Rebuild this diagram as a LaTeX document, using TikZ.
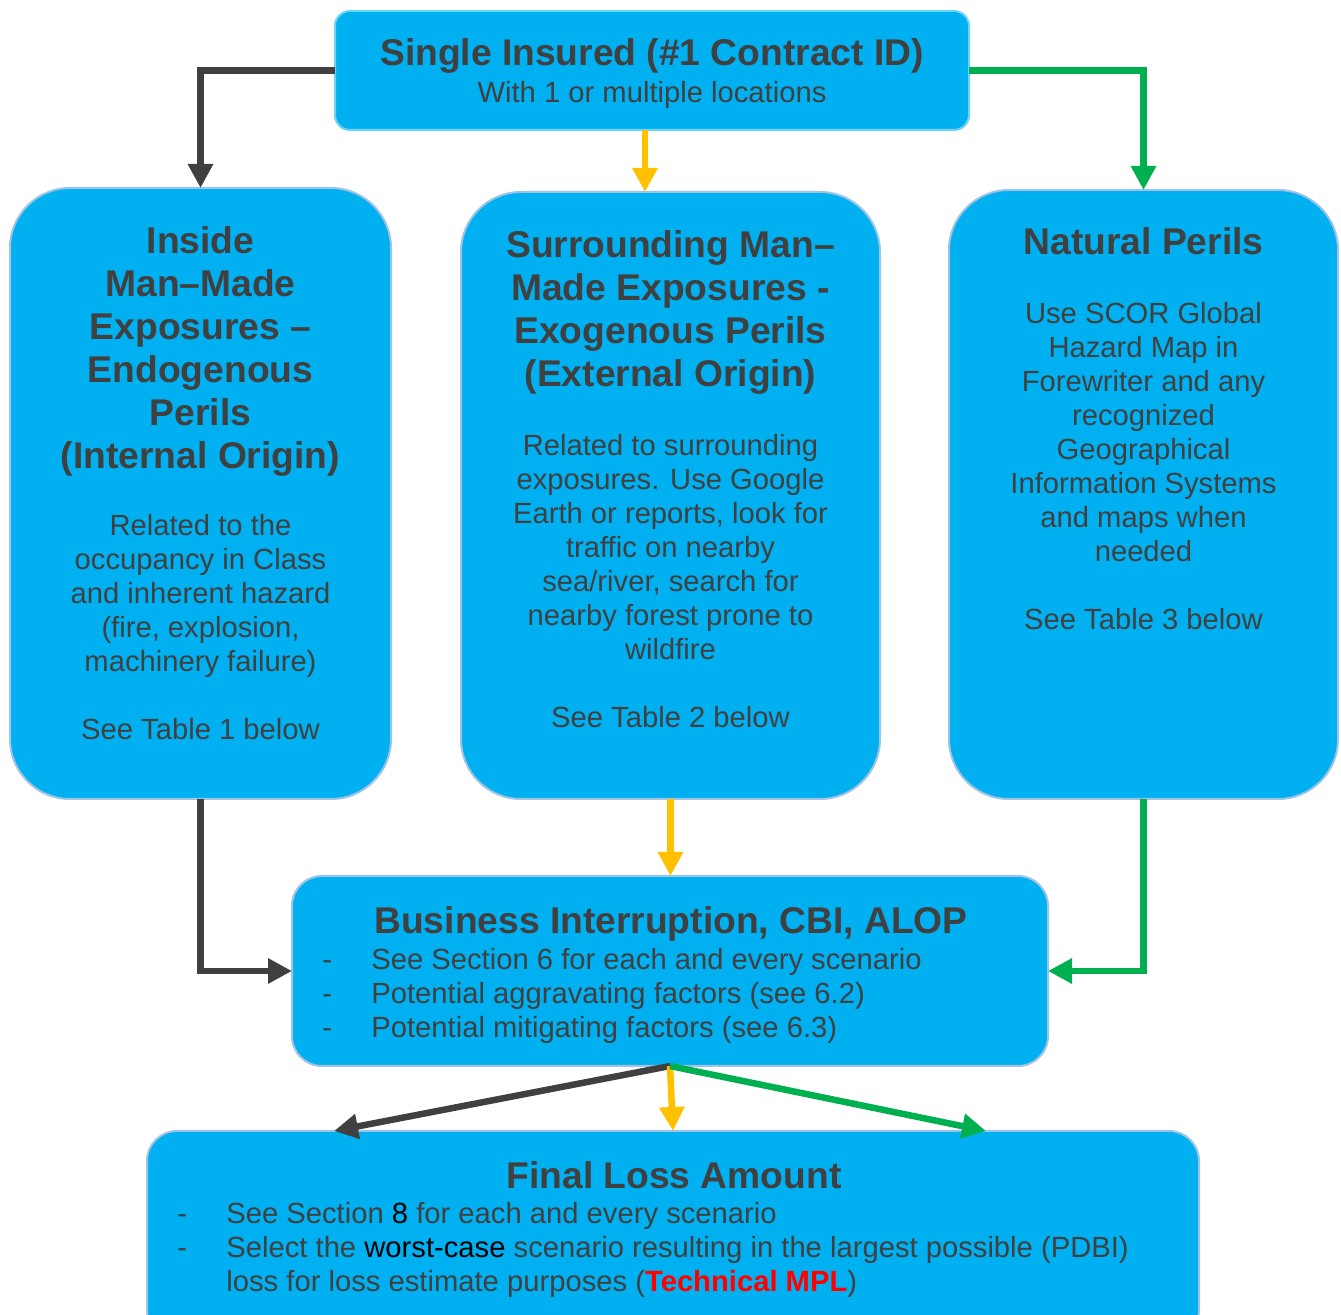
\documentclass[tikz,border=0pt]{standalone}
\usepackage{fontspec}
\setmainfont{Liberation Sans}
\usetikzlibrary{arrows.meta}

\definecolor{boxblue}{HTML}{00B0F0}
\definecolor{boxedge}{HTML}{9DC3E6}
\definecolor{topedge}{HTML}{6FD3F7}
\definecolor{txtgray}{HTML}{404040}
\definecolor{arrdark}{HTML}{404040}
\definecolor{arryel}{HTML}{FFC000}
\definecolor{arrgrn}{HTML}{00B050}

\newcommand{\firstline}{\rule{0pt}{1em}}
\newcommand{\bullitem}{\makebox[24.5pt][l]{-}}

\begin{document}
\begin{tikzpicture}[x=0.5pt,y=-0.5pt,
    basebox/.style={fill=boxblue,line width=1pt,outer sep=0pt,inner sep=0pt},
    headbox/.style={basebox,draw=topedge,rounded corners=7.5pt},
    perilbox/.style={basebox,draw=boxedge,rounded corners=30pt},
    sumbox/.style={basebox,draw=boxedge,rounded corners=15pt},
    titletxt/.style={anchor=north,inner sep=0pt,align=center,text=txtgray,
        font=\fontsize{18.6}{21.5}\selectfont\bfseries},
    bodytxt/.style={anchor=north,inner sep=0pt,align=center,text=txtgray,
        font=\fontsize{14.6}{17}\selectfont},
    listtxt/.style={bodytxt,anchor=north west,align=left},
    arr/.style={line width=3.25pt,-{Triangle[length=12pt,width=12pt]}},
    darkarr/.style={arr,draw=arrdark},
    yelarr/.style={arr,draw=arryel},
    grnarr/.style={arr,draw=arrgrn}]
    \useasboundingbox (0,0) rectangle (1341,1315);

    % boxes
    \node (single) [headbox,minimum width=317pt,minimum height=59.5pt] at (652,70.5) {};
    \node (inside) [perilbox,minimum width=190.5pt,minimum height=305.5pt] at (200.5,493.5) {};
    \node (around) [perilbox,minimum width=209.5pt,minimum height=303.5pt] at (670.5,495.5) {};
    \node (natural) [perilbox,minimum width=194.5pt,minimum height=304.5pt] at (1143.5,494.5) {};
    \node (busint) [sumbox,minimum width=378pt,minimum height=95pt] at (670,971) {};
    \node (final) [sumbox,minimum width=526pt,minimum height=104.5pt] at (673,1235.5) {};

    % texts
    \node (singleTitle) [titletxt] at (652,27.8) {\firstline Single Insured (\#1 Contract ID)};
    \node (singleBody) [bodytxt] at (652,72.8) {\firstline With 1 or multiple locations};

    \node (insideTitle) [titletxt] at (200.5,215.8) {\firstline Inside\\Man--Made\\Exposures --\\Endogenous\\Perils\\(Internal Origin)};
    \node (insideBody) [bodytxt] at (200.5,505.8) {\firstline Related to the\\occupancy in Class\\and inherent hazard\\(fire, explosion,\\machinery failure)\\[17pt]See Table 1 below};

    \node (aroundTitle) [titletxt] at (670.5,219.8) {\firstline Surrounding Man--\\Made Exposures -\\Exogenous Perils\\(External Origin)};
    \node (aroundBody) [bodytxt] at (670.5,425.8) {\firstline Related to surrounding\\exposures. Use Google\\Earth or reports, look for\\traffic on nearby\\sea/river, search for\\nearby forest prone to\\wildfire\\[17pt]See Table 2 below};

    \node (naturalTitle) [titletxt] at (1143.5,216.8) {\firstline Natural Perils};
    \node (naturalBody) [bodytxt] at (1143.5,293.8) {\firstline Use SCOR Global\\Hazard Map in\\Forewriter and any\\recognized\\Geographical\\Information Systems\\and maps when\\needed\\[17pt]See Table 3 below};

    \node (busintTitle) [titletxt] at (671,895.8) {\firstline Business Interruption, CBI, ALOP};
    \node (busintList) [listtxt] at (322,939.8) {\firstline\bullitem See Section 6 for each and every scenario\\
        \bullitem Potential aggravating factors (see 6.2)\\
        \bullitem Potential mitigating factors (see 6.3)};

    \node (finalTitle) [titletxt] at (674,1150.8) {\firstline Final Loss Amount};
    \node (finalList) [listtxt] at (177,1193.8) {\firstline\bullitem See Section {\color{black}8} for each and every scenario\\
        \bullitem Select the {\color{black}worst-case} scenario resulting in the largest possible (PDBI)\\
        \makebox[24.5pt]{}loss for loss estimate purposes ({\color{red}\bfseries Technical MPL})};

    % connectors
    \draw [darkarr] (single.west) -| (inside.north);
    \draw [yelarr] ([xshift=-3.5pt]single.south) -- ([xshift=-3.5pt]single.south |- around.north);
    \draw [grnarr] (single.east) -| (natural.north);
    \draw [darkarr] (inside.south) |- (busint.west);
    \draw [yelarr] (around.south) -- (around.south |- busint.north);
    \draw [grnarr] (natural.south) |- (busint.east);
    \draw [darkarr] (busint.south) -- ([xshift=93.5pt]final.north west);
    \draw [yelarr] (busint.south) -- (final.north);
    \draw [grnarr] (busint.south) -- ([xshift=419.5pt]final.north west);
\end{tikzpicture}
\end{document}
